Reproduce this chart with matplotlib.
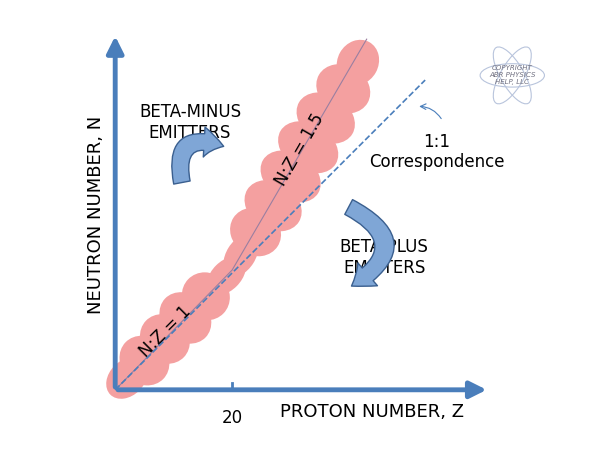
import numpy as np
import matplotlib.pyplot as plt
from matplotlib.patches import Ellipse, FancyArrowPatch

# data units: Z (protons) horizontally, N (neutrons) vertically
z_axis_end, n_axis_end = 64, 61
tick_z = [20]
lower_band = [(2, 2), (5, 5), (8.5, 8.7), (12, 12.3), (15.5, 16), (19, 19.5)]
upper_band = [(21.5, 23), (24, 27), (27, 31.5), (30, 36.5), (33, 41.5), (36, 46.5), (39, 51.5), (41.5, 56)]
lower_w = [3, 4.5, 4.5, 4.8, 4.2, 2.5]
upper_w = [2.5, 4.5, 5.2, 5.5, 5.5, 5.3, 4.8, 3.5]
ratio_line = [(0.5, 0.5), (20, 20.5), (43, 60)]
diag_end = 53

red = '#f4a0a0'
blue = '#4a7ebb'

fig = plt.figure(figsize=(6, 4.5), dpi=100)
ax = fig.add_axes([0, 0, 1, 1])
ax.set_xlim(-19.7, 82.9)
ax.set_ylim(-10.3, 66.7)
ax.axis('off')

for pts, ws in [(lower_band, lower_w), (upper_band, upper_w)]:
    p = np.array(pts)
    for i, ((x, y), w) in enumerate(zip(pts, ws)):
        j = min(i + 1, len(pts) - 1)
        k = max(i - 1, 0)
        ang = np.degrees(np.arctan2(p[j, 1] - p[k, 1], p[j, 0] - p[k, 0]))
        ax.add_patch(Ellipse((x, y), 8, w * 2, angle=ang, color=red, lw=0, zorder=1))

rl = np.array(ratio_line)
ax.plot(rl[:, 0], rl[:, 1], color='#9a7fa0', lw=0.8, zorder=2)
ax.plot([0, diag_end], [0, diag_end], color=blue, lw=1.2, ls='--', zorder=2)

# axes with arrowheads
ax.annotate('', xy=(0, n_axis_end), xytext=(0, 0),
            arrowprops=dict(arrowstyle='-|>,head_width=0.5,head_length=1', color=blue, lw=3.5))
ax.annotate('', xy=(z_axis_end, 0), xytext=(0, 0),
            arrowprops=dict(arrowstyle='-|>,head_width=0.5,head_length=1', color=blue, lw=3.5))
for t in tick_z:
    ax.plot([t, t], [0, 1.2], color=blue, lw=2)
    ax.text(t, -4.9, str(t), ha='center', va='center', fontsize=12)

ax.text(43.9, -3.8, 'PROTON NUMBER, Z', ha='center', va='center', fontsize=13)
ax.text(-3.3, 30, 'NEUTRON NUMBER, N', ha='center', va='center', fontsize=13, rotation=90)
ax.text(12.8, 45.8, 'BETA-MINUS\nEMITTERS', ha='center', va='center', fontsize=12, zorder=3)
ax.text(46, 22.7, 'BETA-PLUS\nEMITTERS', ha='center', va='center', fontsize=12, zorder=3)
ax.text(55, 40.7, '1:1\nCorrespondence', ha='center', va='center', fontsize=12)
ax.text(8.5, 10, 'N:Z = 1', ha='center', va='center', fontsize=12, rotation=45)
ax.text(31.5, 41, 'N:Z = 1.5', ha='center', va='center', fontsize=12, rotation=60)

ax.annotate('', xy=(51.5, 48.5), xytext=(56, 46),
            arrowprops=dict(arrowstyle='->', color=blue, lw=0.8,
                            connectionstyle='arc3,rad=0.3'))

arrow_kw = dict(arrowstyle='simple,head_width=1.8,head_length=1.2,tail_width=1.0',
                mutation_scale=12, fc='#7fa6d6', ec='#3a5f8f', lw=1, zorder=4)
ax.add_patch(FancyArrowPatch((11.5, 35), (19, 41.5), connectionstyle='arc3,rad=-0.9', **arrow_kw))
ax.add_patch(FancyArrowPatch((39.5, 31.5), (40, 17.5), connectionstyle='arc3,rad=-0.9', **arrow_kw))

# copyright mark
for a in (0, 60, 120):
    ax.add_patch(Ellipse((67.9, 53.8), 11, 4, angle=a, fill=False, ec='#b8c4dc', lw=0.8))
ax.text(67.9, 53.8, 'COPYRIGHT\nABR PHYSICS\nHELP, LLC', ha='center', va='center',
        fontsize=5, style='italic', color='#707080')

fig.savefig('out.png', dpi=100)
